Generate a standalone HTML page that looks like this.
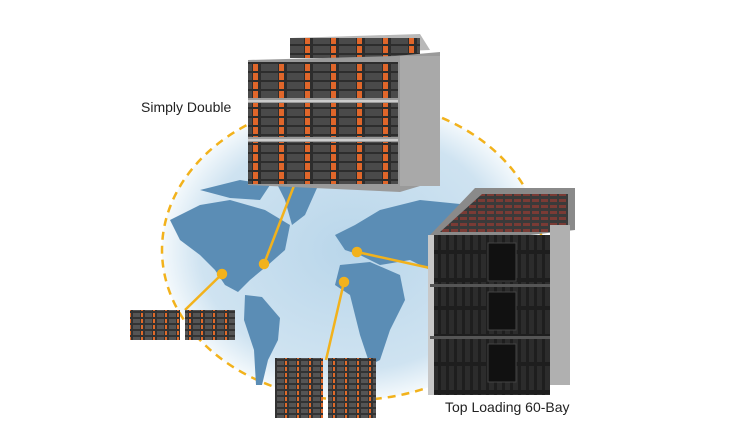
<!DOCTYPE html>
<html><head><style>
html,body{margin:0;padding:0;background:#fff;}
svg{display:block;}
text{font-family:"Liberation Sans",sans-serif;}
</style></head><body>
<svg width="738" height="446" viewBox="0 0 738 446" xmlns="http://www.w3.org/2000/svg">
<defs>
<radialGradient id="g" cx="0.5" cy="0.5" r="0.5">
<stop offset="0" stop-color="#b9d6ea"/><stop offset="0.8" stop-color="#cfe3f1"/><stop offset="1" stop-color="#f4f9fc"/>
</radialGradient>
<pattern id="bay" width="26" height="9" patternUnits="userSpaceOnUse">
<rect width="26" height="9" fill="#2d2d2d"/><rect x="1" y="1" width="17" height="7" fill="#4a4a4a"/><rect x="19" y="1" width="5" height="7" fill="#e0662a"/>
</pattern>
<pattern id="bay2" width="12" height="6" patternUnits="userSpaceOnUse">
<rect width="12" height="6" fill="#333"/><rect x="1" y="1" width="7" height="4" fill="#555"/><rect x="9" y="1" width="2" height="4" fill="#e06a2a"/>
</pattern>
<pattern id="blk" width="8" height="28" patternUnits="userSpaceOnUse">
<rect width="8" height="28" fill="#1e1e1e"/><rect x="1" y="2" width="5" height="24" fill="#2c2c2c"/>
</pattern>
<pattern id="top" width="9" height="6" patternUnits="userSpaceOnUse">
<rect width="9" height="6" fill="#3a3a3a"/><rect x="1" y="1" width="7" height="3" fill="#7a3b35"/>
</pattern>
</defs>
<ellipse cx="352" cy="250" rx="190" ry="150" fill="url(#g)"/>
<ellipse cx="352" cy="250" rx="190" ry="150" fill="none" stroke="#f2b21c" stroke-width="2.5" stroke-dasharray="8,6"/>
<g fill="#5b8db5">
<path d="M170 220 L200 205 L230 200 L265 210 L290 225 L285 250 L268 265 L250 280 L238 292 L225 285 L215 270 L200 255 L180 240 Z"/>
<path d="M200 190 L240 180 L270 185 L260 200 L230 198 Z"/>
<path d="M270 170 L300 160 L325 170 L305 215 L292 225 L285 200 Z"/>
<path d="M245 295 L262 297 L280 318 L278 340 L268 360 L262 385 L256 385 L254 350 L244 320 Z"/>
<path d="M335 235 L355 225 L380 210 L420 200 L470 205 L500 210 L480 245 L455 265 L430 270 L410 260 L380 265 L360 255 L345 250 Z"/>
<path d="M340 265 L370 262 L400 275 L405 300 L390 330 L380 360 L370 365 L360 335 L350 295 L335 285 Z"/>
<path d="M460 290 L478 300 L470 320 L455 315 Z"/>
</g>
<g stroke="#f2b21c" stroke-width="2.5" fill="#f2b21c">
<line x1="300" y1="170" x2="264" y2="264"/><circle cx="264" cy="264" r="4"/>
<line x1="222" y1="274" x2="185" y2="310"/><circle cx="222" cy="274" r="4"/>
<line x1="357" y1="252" x2="430" y2="268"/><circle cx="357" cy="252" r="4"/>
<line x1="344" y1="282" x2="326" y2="360"/><circle cx="344" cy="282" r="4"/>
</g>
<!-- top server -->
<polygon points="290,38 420,34 430,50 300,55" fill="#b8b8b8"/>
<rect x="290" y="38" width="130" height="20" fill="url(#bay)"/>
<polygon points="248,60 395,56 440,52 440,180 400,192 248,185" fill="#9a9a9a"/>
<rect x="400" y="56" width="40" height="130" fill="#a9a9a9"/>
<rect x="248" y="62" width="150" height="36" fill="url(#bay)"/>
<rect x="248" y="100" width="150" height="2" fill="#ccc"/>
<rect x="248" y="103" width="150" height="34" fill="url(#bay)"/>
<rect x="248" y="139" width="150" height="2" fill="#ccc"/>
<rect x="248" y="142" width="150" height="42" fill="url(#bay)"/>
<!-- right server -->
<polygon points="430,235 475,188 575,188 575,230 530,235" fill="#8a8a8a"/>
<polygon points="440,232 482,194 568,194 568,232" fill="url(#top)"/>
<rect x="430" y="235" width="120" height="160" fill="url(#blk)"/>
<rect x="550" y="225" width="20" height="160" fill="#b0b0b0"/>
<rect x="428" y="235" width="6" height="160" fill="#c8c8c8"/>
<rect x="430" y="284" width="120" height="3" fill="#555"/>
<rect x="430" y="336" width="120" height="3" fill="#555"/>
<rect x="488" y="243" width="28" height="38" fill="#111" stroke="#444"/>
<rect x="488" y="292" width="28" height="38" fill="#111" stroke="#444"/>
<rect x="488" y="344" width="28" height="38" fill="#111" stroke="#444"/>
<!-- small stacks -->
<rect x="130" y="310" width="50" height="30" fill="url(#bay2)"/>
<rect x="185" y="310" width="50" height="30" fill="url(#bay2)"/>
<rect x="275" y="358" width="48" height="60" fill="url(#bay2)"/>
<rect x="328" y="358" width="48" height="60" fill="url(#bay2)"/>
<text x="141" y="112" font-size="14" fill="#222">Simply Double</text>
<text x="445" y="412" font-size="14" fill="#222">Top Loading 60-Bay</text>
</svg>
</body></html>
